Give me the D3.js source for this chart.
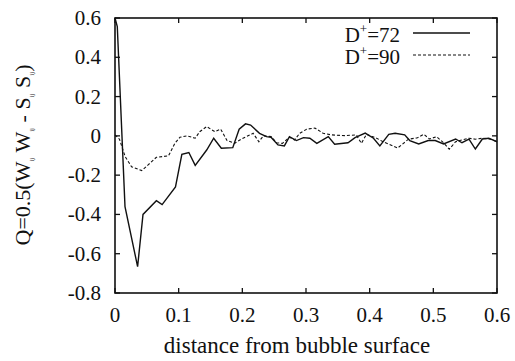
<!DOCTYPE html>
<html>
<head>
<meta charset="utf-8">
<script src="https://cdn.jsdelivr.net/npm/d3@7"></script>
<style>
  body { margin: 0; background: #fff; }
</style>
</head>
<body>
<div class="chart"></div>
<script>
// distance from bubble surface
let xD72 = [0, 0.0036, 0.0157, 0.0355, 0.044, 0.065, 0.074, 0.095, 0.105, 0.116, 0.126, 0.144, 0.155, 0.167, 0.185, 0.195, 0.205, 0.213, 0.227, 0.238, 0.245, 0.256, 0.266, 0.274, 0.285, 0.296, 0.306, 0.317, 0.335, 0.345, 0.366, 0.377, 0.393, 0.406, 0.416, 0.43, 0.44, 0.455, 0.463, 0.477, 0.492, 0.503, 0.516, 0.535, 0.545, 0.556, 0.566, 0.577, 0.587, 0.6];
let yD72 = [0.60, 0.556, -0.36, -0.666, -0.40, -0.33, -0.35, -0.26, -0.094, -0.085, -0.15, -0.072, -0.012, -0.063, -0.06, 0.034, 0.061, 0.055, 0.013, -0.004, -0.007, -0.046, -0.051, -0.004, -0.024, -0.009, -0.012, -0.038, -0.004, -0.043, -0.035, -0.009, 0.014, -0.012, -0.051, 0.008, 0.013, 0.005, -0.024, -0.041, -0.024, -0.024, -0.041, -0.016, -0.035, -0.017, -0.067, -0.016, -0.012, -0.03];

let xD90 = [0, 0.007, 0.016, 0.026, 0.042, 0.052, 0.065, 0.084, 0.094, 0.102, 0.113, 0.126, 0.133, 0.144, 0.157, 0.166, 0.176, 0.188, 0.198, 0.217, 0.226, 0.233, 0.245, 0.254, 0.263, 0.274, 0.282, 0.29, 0.301, 0.314, 0.327, 0.34, 0.361, 0.379, 0.387, 0.395, 0.41, 0.421, 0.444, 0.461, 0.475, 0.485, 0.494, 0.505, 0.516, 0.525, 0.535, 0.545, 0.556, 0.566, 0.578, 0.59, 0.6];
let yD90 = [0.005, -0.017, -0.106, -0.157, -0.177, -0.148, -0.109, -0.102, -0.038, -0.007, 0, -0.012, 0.021, 0.047, 0.021, 0.034, -0.024, -0.038, -0.017, 0.013, -0.03, 0, -0.004, -0.035, -0.038, -0.007, -0.021, 0.013, 0.034, 0.04, 0.013, 0.005, 0.001, 0.005, -0.038, 0.008, -0.01, -0.03, -0.062, -0.017, -0.01, 0.008, -0.016, -0.004, -0.035, -0.068, -0.03, -0.021, -0.012, -0.017, -0.012, -0.017, -0.03];

let xTicks = [0, 0.1, 0.2, 0.3, 0.4, 0.5, 0.6];
let yTicks = [-0.8, -0.6, -0.4, -0.2, 0, 0.2, 0.4, 0.6];

let width = 515, height = 361;
let margin = {top: 18, right: 18, bottom: 68, left: 115};
let serif = "Liberation Serif";

let svg = d3.select(".chart").append("svg")
    .attr("width", width)
    .attr("height", height);

let xScale = d3.scaleLinear().domain([0, 0.6]).range([margin.left, width - margin.right]);
let yScale = d3.scaleLinear().domain([-0.8, 0.6]).range([height - margin.bottom, margin.top]);

let x0 = xScale.range()[0], x1 = xScale.range()[1];
let y0 = yScale.range()[0], y1 = yScale.range()[1];

// inward ticks on all four sides
let tickLen = 5;
let axes = svg.append("g").attr("stroke", "#111").attr("stroke-width", 1.3);
xTicks.forEach(t => {
    axes.append("line").attr("x1", xScale(t)).attr("x2", xScale(t)).attr("y1", y0).attr("y2", y0 - tickLen);
    axes.append("line").attr("x1", xScale(t)).attr("x2", xScale(t)).attr("y1", y1).attr("y2", y1 + tickLen);
});
yTicks.forEach(t => {
    axes.append("line").attr("x1", x0).attr("x2", x0 + tickLen).attr("y1", yScale(t)).attr("y2", yScale(t));
    axes.append("line").attr("x1", x1).attr("x2", x1 - tickLen).attr("y1", yScale(t)).attr("y2", yScale(t));
});

// frame
svg.append("rect")
    .attr("x", x0).attr("y", y1)
    .attr("width", x1 - x0).attr("height", y0 - y1)
    .attr("fill", "none").attr("stroke", "#111").attr("stroke-width", 1.6);

// tick labels
svg.append("g").selectAll("text").data(xTicks).enter().append("text")
    .attr("x", d => xScale(d))
    .attr("y", y0 + 29)
    .attr("text-anchor", "middle")
    .attr("font-family", serif)
    .attr("font-size", 21)
    .attr("fill", "#111")
    .text(d => d3.format("")(d));

svg.append("g").selectAll("text").data(yTicks).enter().append("text")
    .attr("x", x0 - 14)
    .attr("y", d => yScale(d) + 7)
    .attr("text-anchor", "end")
    .attr("font-family", serif)
    .attr("font-size", 21)
    .attr("fill", "#111")
    .text(d => d === 0 ? "0" : d.toFixed(1));

// axis titles
svg.append("text")
    .attr("x", 297).attr("y", 353)
    .attr("text-anchor", "middle")
    .attr("font-family", serif)
    .attr("font-size", 23)
    .attr("fill", "#111")
    .text("distance from bubble surface");

let yTitle = svg.append("text")
    .attr("transform", "translate(30,155) rotate(-90)")
    .attr("text-anchor", "middle")
    .attr("font-family", serif)
    .attr("font-size", 22)
    .attr("fill", "#111");
let parts = [["Q=0.5(W", false], ["ij", true], [" W", false], ["ij", true], [" - S", false], ["ij", true], [" S", false], ["ij", true], [")", false]];
parts.forEach(p => {
    yTitle.append("tspan")
        .attr("font-size", p[1] ? 7 : 22)
        .attr("dy", p[1] ? 4 : (p[0][0] === "Q" ? 0 : -4))
        .text(p[0]);
});

// lines
let line = d3.line().x(d => xScale(d[0])).y(d => yScale(d[1]));

svg.append("path")
    .datum(xD90.map((x, i) => [x, yD90[i]]))
    .attr("fill", "none").attr("stroke", "#111").attr("stroke-width", 1.1)
    .attr("stroke-dasharray", "3,2")
    .attr("d", line);

svg.append("path")
    .datum(xD72.map((x, i) => [x, yD72[i]]))
    .attr("fill", "none").attr("stroke", "#111").attr("stroke-width", 1.4)
    .attr("d", line);

// legend
let legend = [["72", null, 33], ["90", "3,2", 55]];
legend.forEach(l => {
    let t = svg.append("text")
        .attr("x", 400).attr("y", l[2] + 9)
        .attr("text-anchor", "end")
        .attr("font-family", serif)
        .attr("font-size", 21)
        .attr("fill", "#111");
    t.append("tspan").text("D");
    t.append("tspan").attr("font-size", 13).attr("dy", -9).text("+");
    t.append("tspan").attr("dy", 9).text("=" + l[0]);
    svg.append("line")
        .attr("x1", 413).attr("x2", 470)
        .attr("y1", l[2]).attr("y2", l[2])
        .attr("stroke", "#111").attr("stroke-width", l[1] ? 1.1 : 1.4)
        .attr("stroke-dasharray", l[1]);
});
</script>
</body>
</html>
